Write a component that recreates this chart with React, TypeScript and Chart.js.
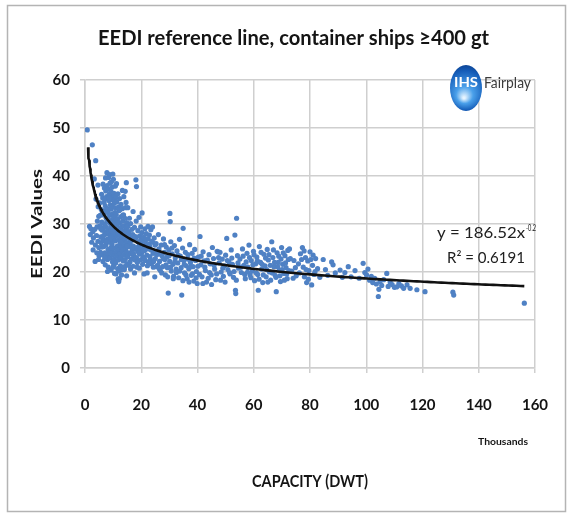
import React, { useEffect, useRef } from "react";
import { Chart, registerables } from "chart.js";

Chart.register(...registerables);

// ---------- texts ----------
const TITLE = "EEDI reference line, container ships ≥400 gt";
const Y_TITLE = "EEDI Values";
const X_TITLE = "CAPACITY (DWT)";
const X_UNIT = "Thousands";
const EQUATION = "y = 186.52x";
const EQUATION_EXP = "-0.2";
const R2_LABEL = "R² = 0.6191";
const LOGO_MARK = "IHS";
const LOGO_NAME = "Fairplay";

// ---------- axes ----------
const X_TICKS = [0, 20, 40, 60, 80, 100, 120, 140, 160];
const Y_TICKS = [0, 10, 20, 30, 40, 50, 60];

// ---------- trend line (power fit shown on the chart, x in DWT) ----------
const TREND_COEF = 186.52;
const TREND_EXP = -0.2;
const TREND_START_K = 1.1;
const TREND_END_K = 156.2;

// ---------- ships: [capacity (thousand DWT), EEDI] ----------
const band0to5: [number, number][] = [
  [0.8, 49.6], [2.6, 46.5], [3.8, 43.2], [3.3, 39.4], [4.6, 38.1], [1.6, 29.5], [2.1, 29.0], [2.8, 28.4],
  [3.5, 28.9], [1.9, 27.8], [3.0, 27.1], [4.1, 27.6], [2.4, 26.2], [4.6, 26.4], [3.7, 25.6], [4.9, 25.1],
  [2.9, 24.6], [4.2, 24.0], [5.0, 23.4], [3.6, 22.2], [4.8, 22.6], [4.4, 30.6], [4.9, 31.6], [4.7, 33.6],
  [3.9, 35.2], [4.3, 29.4],
];

const band5to10: [number, number][] = [
  [5.2, 34.4], [5.4, 31.8], [5.3, 29.6], [5.6, 27.3], [5.5, 24.1], [5.9, 36.2], [5.8, 33.0], [6.0, 30.4],
  [6.1, 28.7], [5.7, 26.1], [6.2, 23.6], [6.4, 38.3], [6.3, 35.4], [6.6, 31.9], [6.5, 29.1], [6.3, 27.0],
  [6.7, 25.3], [6.4, 22.2], [6.9, 37.5], [6.8, 34.5], [7.0, 32.8], [6.9, 30.0], [7.1, 28.3], [6.8, 26.5],
  [7.0, 24.0], [7.2, 21.5], [7.3, 39.6], [7.4, 36.9], [7.2, 33.8], [7.5, 31.3], [7.3, 29.5], [7.6, 27.9],
  [7.4, 25.6], [7.7, 23.2], [7.8, 40.7], [7.9, 38.0], [7.7, 35.7], [8.0, 33.2], [7.8, 30.7], [8.1, 28.8],
  [7.9, 26.8], [8.2, 24.7], [8.0, 22.6], [8.3, 21.0], [8.4, 39.7], [8.2, 37.3], [8.5, 34.9], [8.3, 32.3],
  [8.6, 30.3], [8.4, 28.1], [8.7, 26.2], [8.5, 23.8], [8.8, 40.3], [8.9, 38.5], [8.7, 36.2], [9.0, 34.0],
  [8.8, 31.8], [9.1, 29.4], [8.9, 27.5], [9.2, 25.1], [9.0, 22.9], [9.3, 20.4], [9.4, 38.8], [9.2, 36.8],
  [9.5, 35.1], [9.3, 33.1], [9.6, 30.8], [9.4, 28.6], [9.7, 26.7], [9.5, 24.4], [9.8, 22.1], [9.9, 40.4],
  [9.7, 37.7], [10.0, 35.7], [9.9, 32.1], [9.8, 29.9], [10.0, 27.8], [9.6, 25.8], [9.9, 23.6],
  [5.6, 29.0], [6.2, 32.5], [6.6, 27.6], [7.1, 35.2], [7.5, 26.3], [8.1, 31.2], [8.6, 35.4], [9.1, 27.0],
  [9.6, 33.7], [6.0, 25.2], [7.0, 22.9], [8.0, 20.1], [9.0, 24.0],
];

const band10to15: [number, number][] = [
  [10.2, 21.4], [10.1, 39.3], [10.3, 36.4], [10.4, 34.3], [10.2, 31.4], [10.5, 29.2], [10.3, 27.3], [10.6, 25.0],
  [10.4, 22.7], [10.5, 19.7], [10.8, 37.9], [10.7, 35.2], [10.9, 33.3], [10.6, 30.6], [11.0, 28.4], [10.8, 26.5],
  [11.1, 24.2], [10.9, 21.9], [11.2, 38.4], [11.3, 34.6], [11.1, 32.0], [11.4, 29.8], [11.2, 27.6], [11.5, 25.4],
  [11.3, 23.3], [11.6, 20.7], [11.8, 18.5], [11.7, 36.3], [11.9, 33.5], [11.6, 31.0], [12.0, 28.9], [11.8, 26.7],
  [12.1, 24.6], [11.9, 22.5], [12.0, 18.0], [12.3, 35.3], [12.2, 32.8], [12.4, 30.2], [12.2, 28.0], [12.5, 25.9],
  [12.3, 23.8], [12.6, 21.3], [12.2, 18.6], [12.8, 34.1], [12.7, 31.5], [12.9, 29.3], [12.7, 27.2], [13.0, 25.2],
  [12.8, 23.0], [13.1, 20.5], [13.3, 37.0], [13.2, 33.2], [13.4, 30.6], [13.2, 28.5], [13.5, 26.4], [13.3, 24.5],
  [13.6, 22.3], [13.8, 35.7], [13.7, 31.9], [13.9, 29.6], [13.7, 27.4], [14.0, 25.5], [13.8, 23.5], [14.1, 21.1],
  [14.3, 36.8], [14.2, 31.2], [14.4, 28.8], [14.2, 26.8], [14.5, 24.8], [14.3, 22.6], [14.7, 38.6], [14.6, 34.5],
  [14.8, 30.3], [14.6, 27.9], [14.9, 26.1], [14.7, 24.1], [14.9, 21.7], [14.8, 19.2],
  [10.1, 28.3], [10.7, 32.4], [11.0, 35.8], [11.5, 30.3], [11.9, 27.8], [12.4, 33.0], [12.9, 26.2], [13.4, 31.8],
  [13.9, 27.9], [14.4, 33.4], [14.9, 29.3], [10.0, 21.0], [11.0, 19.6], [12.0, 20.2], [13.0, 19.4], [14.0, 20.5],
];

const band15to25: [number, number][] = [
  [15.2, 33.4], [15.3, 29.6], [15.1, 27.2], [15.4, 25.3], [15.2, 23.2], [15.5, 21.4], [15.8, 31.2], [15.7, 28.1],
  [15.9, 26.0], [15.6, 24.0], [16.0, 22.1], [16.2, 30.1], [16.3, 27.5], [16.1, 25.7], [16.4, 23.8], [16.2, 20.6],
  [16.7, 28.9], [16.6, 26.6], [16.8, 24.6], [16.5, 22.7], [17.1, 32.6], [17.0, 27.8], [17.2, 25.4], [17.3, 23.4],
  [17.1, 21.2], [17.6, 29.3], [17.5, 26.9], [17.7, 24.9], [17.8, 22.5], [17.6, 19.8], [18.1, 39.2], [18.3, 37.8],
  [18.2, 30.6], [18.0, 27.1], [18.4, 25.1], [18.3, 23.0], [18.5, 21.0], [18.8, 28.6], [18.9, 26.3], [18.7, 24.4],
  [19.0, 22.3], [19.2, 31.4], [19.4, 27.5], [19.3, 25.5], [19.5, 23.7], [19.3, 20.8], [19.8, 29.4], [19.9, 26.8],
  [19.7, 24.7], [20.0, 22.6], [20.3, 32.3], [20.2, 28.2], [20.4, 25.9], [20.1, 23.9], [20.5, 21.6], [20.8, 27.2],
  [20.9, 25.2], [20.7, 23.1], [21.0, 19.6], [21.3, 29.0], [21.4, 26.4], [21.2, 24.5], [21.5, 22.4], [21.8, 28.0],
  [21.9, 25.6], [22.0, 23.5], [22.1, 19.8], [22.4, 29.5], [22.5, 26.9], [22.3, 24.8], [22.6, 22.0], [22.9, 27.7],
  [23.0, 25.3], [23.1, 23.2], [23.4, 28.8], [23.5, 24.6], [23.6, 21.7], [24.0, 29.4], [24.1, 26.2], [24.2, 23.9],
  [24.3, 21.0], [24.6, 27.1], [24.7, 24.3], [24.8, 19.0], [25.0, 22.8],
  [15.0, 25.4], [15.5, 28.4], [16.0, 26.9], [16.6, 25.1], [17.2, 23.9], [17.9, 27.4], [18.6, 22.0], [19.1, 24.0],
  [19.6, 26.2], [20.6, 24.4], [21.1, 22.8], [21.7, 26.9], [22.2, 21.3], [22.8, 25.8], [23.3, 22.6], [23.8, 26.4],
  [24.4, 22.2], [24.9, 25.6],
];

const band25to40: [number, number][] = [
  [25.3, 25.9], [25.5, 23.6], [25.8, 21.4], [26.1, 27.8], [26.3, 24.8], [26.5, 22.2], [26.8, 20.3], [27.1, 25.6],
  [27.4, 23.4], [27.6, 21.1], [27.9, 26.9], [28.2, 24.1], [28.4, 22.6], [28.6, 19.4], [28.9, 25.2], [29.1, 23.1],
  [29.3, 20.9], [29.6, 15.6], [29.8, 24.6], [30.1, 22.2], [30.2, 32.2], [30.3, 30.5], [30.5, 26.3], [30.7, 20.2],
  [31.0, 23.8], [31.3, 21.6], [31.5, 19.1], [31.8, 25.5], [32.1, 22.9], [32.4, 20.6], [32.7, 24.4], [33.0, 21.9],
  [33.3, 18.8], [33.6, 26.8], [33.9, 23.3], [34.2, 20.9], [34.4, 15.2], [34.7, 25.0], [34.9, 29.1], [35.1, 22.4],
  [35.4, 19.8], [35.7, 24.1], [36.0, 21.3], [36.3, 18.6], [36.6, 23.6], [36.9, 20.7], [37.2, 25.7], [37.5, 22.0],
  [37.8, 19.3], [38.1, 23.9], [38.4, 21.1], [38.7, 18.1], [39.0, 24.7], [39.3, 22.4], [39.6, 20.1], [39.9, 17.6],
  [25.4, 21.1], [25.9, 24.3], [26.4, 20.7], [26.9, 23.7], [27.3, 19.8], [27.8, 22.8], [28.3, 25.7], [28.8, 21.5],
  [29.4, 19.0], [29.9, 23.4], [30.4, 21.0], [30.9, 25.0], [31.4, 18.6], [31.9, 22.1], [32.5, 19.9], [33.1, 23.5],
  [33.7, 20.2], [34.3, 22.6], [34.8, 18.2], [35.3, 21.6], [35.9, 19.4], [36.5, 22.7], [37.0, 17.9], [37.6, 21.1],
  [38.2, 19.6], [38.8, 22.9], [39.5, 18.8],
];

const band40to55: [number, number][] = [
  [40.3, 23.1], [40.9, 27.4], [41.2, 21.5], [41.6, 19.0], [42.0, 24.2], [42.4, 22.3], [42.8, 20.3], [43.2, 17.9],
  [43.8, 18.7], [44.1, 23.6], [44.5, 21.7], [44.9, 19.4], [45.3, 25.1], [45.7, 22.8], [46.1, 20.6], [46.5, 18.4],
  [47.0, 24.3], [47.3, 24.2], [47.7, 21.9], [48.0, 24.1], [48.4, 20.0], [48.8, 22.7], [49.2, 19.1], [49.6, 21.3],
  [50.0, 23.5], [50.4, 27.0], [50.8, 20.5], [51.2, 22.1], [51.6, 19.6], [52.0, 24.6], [52.4, 21.6], [52.8, 18.9],
  [53.3, 27.7], [53.5, 16.2], [53.9, 31.2], [53.6, 15.5], [54.2, 23.4], [54.6, 20.8],
  [40.1, 21.2], [40.7, 19.5], [41.3, 23.3], [41.9, 17.6], [42.6, 21.0], [43.5, 22.5], [44.3, 19.9], [45.0, 17.4],
  [45.9, 21.4], [46.8, 19.6], [47.5, 23.0], [48.2, 18.3], [49.0, 20.8], [49.8, 17.9], [50.6, 22.4], [51.4, 19.9],
  [52.2, 22.9], [53.0, 20.1], [53.8, 18.3], [54.4, 21.9],
];

const band55to75: [number, number][] = [
  [55.1, 22.7], [55.6, 19.9], [56.0, 24.8], [56.5, 21.4], [57.0, 18.6], [57.6, 23.9], [57.9, 21.0], [58.3, 25.6],
  [58.7, 19.4], [59.1, 22.4], [59.5, 20.2], [59.9, 24.3], [60.3, 18.2], [60.7, 21.7], [61.1, 23.1], [61.6, 16.2],
  [61.4, 19.5], [62.0, 25.3], [62.4, 22.0], [62.8, 20.6], [63.2, 17.8], [63.6, 23.7], [64.0, 21.3], [64.4, 19.0],
  [64.8, 24.7], [65.2, 22.5], [65.6, 20.0], [66.0, 18.3], [66.4, 26.3], [66.8, 23.0], [67.2, 21.1], [67.6, 19.3],
  [68.0, 15.9], [68.3, 24.0], [68.7, 22.0], [69.1, 20.4], [69.5, 18.0], [69.9, 25.1], [70.3, 21.6], [70.7, 19.7],
  [71.1, 23.4], [71.5, 20.9], [71.9, 18.6], [72.3, 22.6], [72.7, 24.8],
  [55.4, 21.0], [56.2, 23.3], [56.8, 19.5], [57.3, 22.1], [57.8, 20.0], [58.5, 23.0], [59.0, 18.8], [59.7, 21.5],
  [60.1, 23.6], [60.9, 19.8], [61.3, 22.3], [61.9, 18.5], [62.6, 24.1], [63.0, 21.6], [63.4, 19.4], [64.2, 22.9],
  [64.6, 20.5], [65.0, 17.9], [65.4, 23.6], [65.9, 21.4], [66.6, 19.8], [67.0, 24.6], [67.4, 22.0], [67.9, 18.9],
  [68.5, 21.1], [68.9, 23.3], [69.3, 19.2], [69.7, 22.7], [70.1, 20.5], [70.5, 24.0], [70.9, 18.3], [71.3, 21.9],
  [71.7, 19.6], [72.1, 24.5], [72.5, 20.3], [73.0, 22.8],
];

const band75to100: [number, number][] = [
  [73.5, 20.2], [74.3, 22.4], [75.1, 19.2], [75.9, 21.7], [76.6, 23.8], [77.3, 25.1], [77.6, 21.0], [78.0, 19.0],
  [78.4, 23.0], [78.8, 17.8], [79.2, 22.3], [79.6, 20.3], [80.0, 24.2], [80.6, 17.3], [80.9, 21.4], [81.4, 19.5],
  [82.0, 22.8], [82.7, 20.7], [83.5, 18.9], [84.7, 22.6], [85.5, 20.5], [86.3, 19.3], [87.7, 22.1], [88.2, 21.5],
  [89.0, 19.8], [90.7, 20.4], [91.5, 18.9], [92.4, 19.9], [93.6, 21.1], [94.6, 19.0], [96.0, 20.3], [97.5, 18.7],
  [98.9, 21.8], [99.5, 19.9],
  [74.0, 18.7], [74.8, 20.9], [76.2, 19.8], [77.0, 22.6], [77.9, 24.4], [78.6, 20.5], [79.4, 18.5], [80.3, 22.6],
  [81.1, 23.5], [81.8, 20.1],
];

const band100to160: [number, number][] = [
  [100.1, 19.4], [100.6, 20.6], [101.2, 18.3], [101.8, 19.1], [102.3, 17.8], [103.0, 18.7], [103.6, 17.5], [104.3, 14.9],
  [104.5, 16.4], [104.9, 18.0], [105.5, 17.2], [106.2, 18.4], [107.3, 19.7], [107.8, 17.0], [108.5, 17.9], [109.2, 17.4],
  [110.0, 16.8], [110.8, 16.9], [111.6, 17.6], [112.5, 17.1], [113.3, 16.6], [114.5, 17.3], [115.6, 16.6], [118.0, 16.3],
  [120.9, 15.9], [130.8, 15.8], [131.1, 15.2], [156.2, 13.5],
];

const ALL_SHIPS = [
  ...band0to5, ...band5to10, ...band10to15, ...band15to25, ...band25to40,
  ...band40to55, ...band55to75, ...band75to100, ...band100to160,
];

function trendPoints() {
  const pts: { x: number; y: number }[] = [];
  const n = 220;
  for (let k = 0; k <= n; k++) {
    const t = k / n;
    const xk = TREND_START_K + (TREND_END_K - TREND_START_K) * t * t;
    pts.push({ x: xk, y: TREND_COEF * Math.pow(xk * 1000, TREND_EXP) });
  }
  return pts;
}

// ---------- drawing helpers ----------
function drawText(
  ctx: CanvasRenderingContext2D,
  text: string,
  x: number,
  y: number,
  font: string,
  color: string,
  align: CanvasTextAlign,
  targetWidth?: number
) {
  ctx.save();
  ctx.font = font;
  ctx.fillStyle = color;
  ctx.textBaseline = "middle";
  ctx.textAlign = align;
  const w = ctx.measureText(text).width;
  const sx = targetWidth ? targetWidth / w : 1;
  ctx.translate(x, y);
  ctx.scale(sx, 1);
  ctx.fillText(text, 0, 0);
  ctx.restore();
}

const FONT = "Lato, 'Open Sans', sans-serif";
const TEXT_COLOR = "#141414";

const decorPlugin = {
  id: "decor",
  beforeDraw(chart: Chart) {
    const ctx = chart.ctx;
    ctx.save();
    ctx.fillStyle = "#ffffff";
    ctx.fillRect(0, 0, chart.width, chart.height);
    ctx.strokeStyle = "#b4b4b4";
    ctx.lineWidth = 1.5;
    ctx.strokeRect(7.5, 5.5, 558, 506);
    ctx.restore();
  },
  afterDraw(chart: Chart) {
    const ctx = chart.ctx;
    drawText(ctx, TITLE, 293.5, 38, `bold 21px ${FONT}`, TEXT_COLOR, "center", 391);
    ctx.save();
    ctx.translate(37, 224);
    ctx.rotate(-Math.PI / 2);
    drawText(ctx, Y_TITLE, 0, 0, `bold 15px ${FONT}`, TEXT_COLOR, "center", 110);
    ctx.restore();
    drawText(ctx, X_UNIT, 503, 442, `bold 10px ${FONT}`, TEXT_COLOR, "center", 50);
    drawText(ctx, X_TITLE, 310, 482, `bold 17px ${FONT}`, TEXT_COLOR, "center", 116);
    drawText(ctx, EQUATION, 525, 233, `15px ${FONT}`, "#202020", "right", 88);
    drawText(ctx, EQUATION_EXP, 526, 228, `9px ${FONT}`, "#202020", "left", 10);
    drawText(ctx, R2_LABEL, 525, 258, `15px ${FONT}`, "#202020", "right", 78);
    ctx.save();
    const cx = 466;
    const cy = 88;
    const g = ctx.createRadialGradient(cx - 2, cy + 10, 1, cx, cy, 26);
    g.addColorStop(0, "#e6f4ff");
    g.addColorStop(0.3, "#4aa0ea");
    g.addColorStop(0.75, "#145cb8");
    g.addColorStop(1, "#0a3a85");
    ctx.fillStyle = g;
    ctx.beginPath();
    ctx.ellipse(cx, cy, 16, 23, 0, 0, Math.PI * 2);
    ctx.fill();
    ctx.restore();
    drawText(ctx, LOGO_MARK, 466, 83, `bold 13px ${FONT}`, "#ffffff", "center", 24);
    drawText(ctx, LOGO_NAME, 484, 83, `16px ${FONT}`, "#3c3c3c", "left", 47);
  },
};

export default function App() {
  const canvasRef = useRef<HTMLCanvasElement | null>(null);

  useEffect(() => {
    if (!canvasRef.current) return;
    const tickFont = { family: FONT, size: 15, weight: "bold" as const };
    const gridColor = "#cfcfcf";
    const chart = new Chart(canvasRef.current, {
      type: "scatter",
      data: {
        datasets: [
          {
            label: "Trend",
            data: trendPoints(),
            showLine: true,
            borderColor: "#111111",
            borderWidth: 2.6,
            pointRadius: 0,
            tension: 0,
            order: 0,
          } as any,
          {
            label: "EEDI",
            data: ALL_SHIPS.map(([x, y]) => ({ x, y })),
            backgroundColor: "#4f81c4",
            borderColor: "#4f81c4",
            borderWidth: 0,
            pointRadius: 2.6,
            order: 1,
          },
        ],
      },
      options: {
        animation: false,
        responsive: false,
        devicePixelRatio: 1,
        events: [],
        layout: { padding: { left: 35, right: 37, top: 80, bottom: 97 } },
        plugins: {
          legend: { display: false },
          tooltip: { enabled: false },
          title: { display: false },
        },
        scales: {
          x: {
            type: "linear",
            min: X_TICKS[0],
            max: X_TICKS[X_TICKS.length - 1],
            afterBuildTicks: (s: any) => {
              s.ticks = X_TICKS.map((v) => ({ value: v }));
            },
            afterFit: (s: any) => {
              s.height = 50;
            },
            ticks: { font: tickFont, color: TEXT_COLOR, padding: 23, maxRotation: 0, autoSkip: false },
            grid: { color: gridColor, lineWidth: 1.5, tickLength: 5 },
            border: { color: gridColor, width: 1.5 },
          },
          y: {
            type: "linear",
            min: Y_TICKS[0],
            max: Y_TICKS[Y_TICKS.length - 1],
            afterBuildTicks: (s: any) => {
              s.ticks = Y_TICKS.map((v) => ({ value: v }));
            },
            afterFit: (s: any) => {
              s.width = 50;
            },
            ticks: { font: tickFont, color: TEXT_COLOR, padding: 10, autoSkip: false },
            grid: { color: gridColor, lineWidth: 1.5, tickLength: 5 },
            border: { color: gridColor, width: 1.5 },
          },
        },
      },
      plugins: [decorPlugin],
    });
    return () => chart.destroy();
  }, []);

  return (
    <div style={{ position: "absolute", left: 0, top: 0, width: 572, height: 515, background: "#fff" }}>
      <canvas ref={canvasRef} width={572} height={515} style={{ display: "block", width: 572, height: 515 }} />
    </div>
  );
}
